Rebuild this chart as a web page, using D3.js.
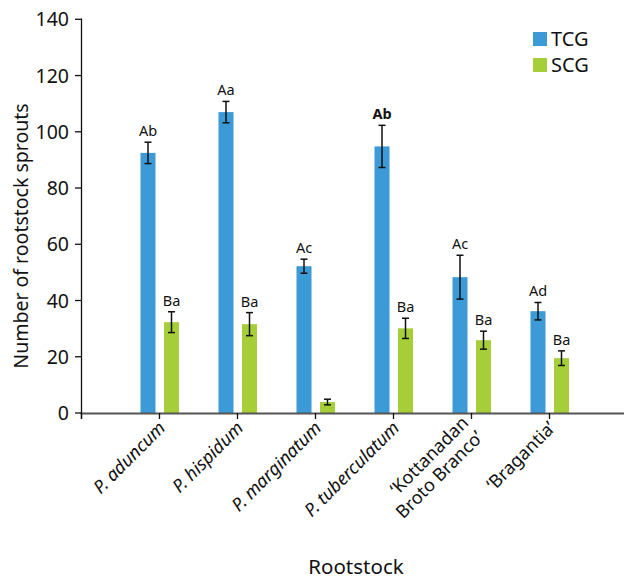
<!DOCTYPE html>
<html><head><meta charset="utf-8">
<script src="https://cdn.jsdelivr.net/npm/d3@7"></script>
<style>body{margin:0;background:#fff}svg{display:block}text{font-family:"Noto Sans",sans-serif;fill:#111}</style>
</head><body><svg id="c" width="624" height="581"></svg>
<script>
const categories = ["P. aduncum","P. hispidum","P. marginatum","P. tuberculatum","‘Kottanadan|Broto Branco’","‘Bragantia’"];
const italicCats = [true,true,true,true,false,false];
const series = ["TCG","SCG"];
const tcgValues = [92.5,107,52.2,94.8,48.3,36.2];
const tcgErrors = [3.8,3.8,2.5,7.5,7.8,3.1];
const scgValues = [32.3,31.6,3.9,30.1,25.9,19.5];
const scgErrors = [3.7,4.1,1.0,3.6,3.2,2.6];
const tcgLetters = ["Ab","Aa","Ac","Ab","Ac","Ad"];
const scgLetters = ["Ba","Ba","","Ba","Ba","Ba"];
const yTicks = [0,20,40,60,80,100,120,140];
const colors = {TCG:"#3c9ad6", SCG:"#a6ce39"};

const svg = d3.select("#c");
const y = d3.scaleLinear().domain([0,140]).range([413,19.3]);
const x = d3.scaleLinear().domain([0,7]).range([81.5,627.5]);

// bars
const data = categories.map((c,i)=>({i, c, tv:tcgValues[i], te:tcgErrors[i], sv:scgValues[i], se:scgErrors[i], tl:tcgLetters[i], sl:scgLetters[i]}));
const bw = 15;
const off = {TCG:-19, SCG:4.5};
const g = svg.append("g");
data.forEach(d=>{
  const cx = x(d.i+1);
  [["TCG",d.tv,d.te,d.tl],["SCG",d.sv,d.se,d.sl]].forEach(([s,v,e,l])=>{
    const bx = cx+off[s];
    g.append("rect").attr("x",bx).attr("y",y(v)).attr("width",bw).attr("height",y(0)-y(v)).attr("fill",colors[s]);
    const mx = bx+bw/2;
    g.append("line").attr("x1",mx).attr("x2",mx).attr("y1",y(v+e)).attr("y2",y(v-e)).attr("stroke","#111").attr("stroke-width",1.5);
    [v+e,v-e].forEach(t=>g.append("line").attr("x1",mx-3.5).attr("x2",mx+3.5).attr("y1",y(t)).attr("y2",y(t)).attr("stroke","#111").attr("stroke-width",1.5));
    if(l) g.append("text").attr("x",mx).attr("y",y(v+e)-6).attr("text-anchor","middle").attr("font-size",14.5)
      .attr("font-weight", (d.i===3&&s==="TCG")?"bold":"normal").text(l);
  });
});

// x axis
svg.append("line").attr("x1",80.5).attr("x2",624).attr("y1",413.5).attr("y2",413.5).attr("stroke","#555").attr("stroke-width",2);
[0,1,2,3,4,5,6].forEach(k=>{
  svg.append("line").attr("x1",x(k)).attr("x2",x(k)).attr("y1",413).attr("y2",419).attr("stroke","#111").attr("stroke-width",1.3);
});
data.forEach(d=>{
  const cx = x(d.i+1);
  const lines = d.c.split("|");
  const t = svg.append("text").attr("transform",`translate(${cx+7},${429}) rotate(-45)`).attr("text-anchor","end")
    .attr("font-size",18).attr("font-style",italicCats[d.i]?"italic":"normal");
  if(lines.length===1){ t.text(lines[0]); }
  else{
    t.attr("transform",`translate(${cx-2},${424}) rotate(-45)`);
    t.append("tspan").attr("x",0).attr("dy",0).text(lines[0]);
    t.append("tspan").attr("x",0).attr("dy","1.15em").text(lines[1]);
  }
});

// y axis
svg.append("line").attr("x1",81.5).attr("x2",81.5).attr("y1",18.5).attr("y2",419).attr("stroke","#111").attr("stroke-width",1.3);
yTicks.forEach(v=>{
  svg.append("line").attr("x1",75).attr("x2",81.5).attr("y1",y(v)).attr("y2",y(v)).attr("stroke","#111").attr("stroke-width",1.3);
  svg.append("text").attr("x",69).attr("y",y(v)+7).attr("text-anchor","end").attr("font-size",19.5).text(v);
});
svg.append("text").attr("transform","translate(28,236) rotate(-90)").attr("text-anchor","middle").attr("font-size",19.5).text("Number of rootstock sprouts");
svg.append("text").attr("x",356).attr("y",574).attr("text-anchor","middle").attr("font-size",20.5).text("Rootstock");

// legend
series.forEach((s,i)=>{
  svg.append("rect").attr("x",533).attr("y",32+i*26).attr("width",14).attr("height",14).attr("fill",colors[s]);
  svg.append("text").attr("x",551).attr("y",46+i*26).attr("font-size",20).text(s);
});
</script></body></html>
